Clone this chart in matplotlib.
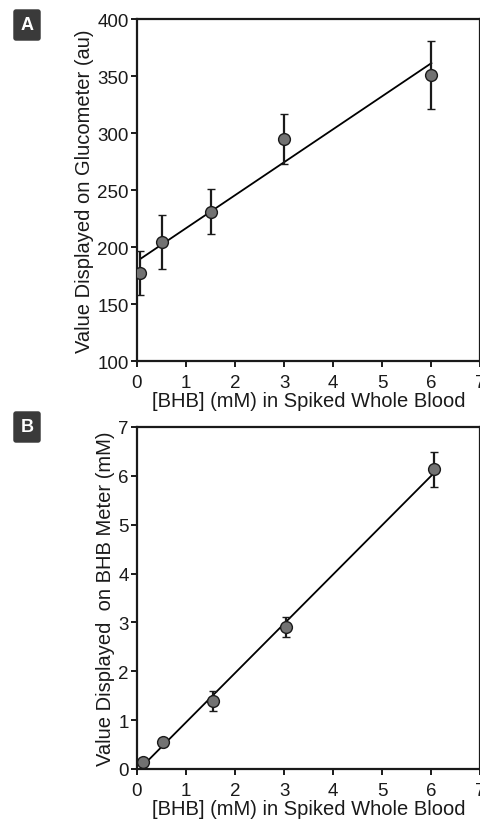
import numpy as np
import matplotlib
matplotlib.use("Agg")
import matplotlib.pyplot as plt

# panel A: glucometer reading vs spiked BHB
bhb_a = [0.07, 0.5, 1.5, 3.0, 6.0]
gluco = [177, 204.5, 231, 295, 351]
gluco_err = [19.5, 23.5, 20, 22, 30]

# panel B: BHB meter reading vs spiked BHB
bhb_b = [0.13, 0.53, 1.55, 3.04, 6.05]
bhb_meter = [0.15, 0.56, 1.39, 2.91, 6.13]
bhb_meter_err = [0.05, 0.08, 0.2, 0.2, 0.36]

xlabel = "[BHB] (mM) in Spiked Whole Blood"

plt.rcParams["font.family"] = ["Liberation Sans", "DejaVu Sans"]


def draw_panel(ax, x, y, err, ylim, yticks, ylabel):
    x = np.array(x)
    y = np.array(y)
    slope, icpt = np.polyfit(x, y, 1)
    xs = np.array([x.min(), x.max()])
    ax.plot(xs, slope * xs + icpt, color="black", lw=1.3, zorder=2)
    ax.errorbar(x, y, yerr=err, fmt="o", color="#1a1a1a", ecolor="#1a1a1a",
                elinewidth=1.6, capsize=3, capthick=1.6,
                markerfacecolor="#727272", markeredgecolor="#1a1a1a",
                markeredgewidth=1.0, markersize=8.5, zorder=3)
    ax.set_xlim(0, 7)
    ax.set_ylim(*ylim)
    ax.set_xticks(range(0, 8))
    ax.set_yticks(yticks)
    ax.tick_params(direction="out", length=4.5, width=1.4, labelsize=13.5,
                   pad=1.5, color="#1a1a1a", labelcolor="#1a1a1a")
    ax.tick_params(axis="x", pad=5)
    for sp in ax.spines.values():
        sp.set_linewidth(1.6)
        sp.set_color("#1a1a1a")
    ax.set_xlabel(xlabel, fontsize=14.5, labelpad=0, color="#1a1a1a")
    ax.set_ylabel(ylabel, fontsize=14.5, labelpad=2, color="#1a1a1a")


fig = plt.figure(figsize=(4.8, 8.2), dpi=100)
ax_a = fig.add_axes([0.2854, 0.5585, 0.7156, 0.4171])
ax_b = fig.add_axes([0.2854, 0.061, 0.7156, 0.4171])

draw_panel(ax_a, bhb_a, gluco, gluco_err, (100, 400),
           range(100, 401, 50), "Value Displayed on Glucometer (au)")
draw_panel(ax_b, bhb_b, bhb_meter, bhb_meter_err, (0, 7),
           range(0, 8), "Value Displayed  on BHB Meter (mM)")

for lab, ypx in [("A", 26), ("B", 428)]:
    fig.text(27 / 480, 1 - ypx / 820, lab, ha="center", va="center",
             fontsize=13, fontweight="bold", color="white",
             bbox=dict(boxstyle="round,pad=0.4,rounding_size=0.15",
                       facecolor="#3a3a3a", edgecolor="none"))

fig.savefig("out.png", dpi=100)
